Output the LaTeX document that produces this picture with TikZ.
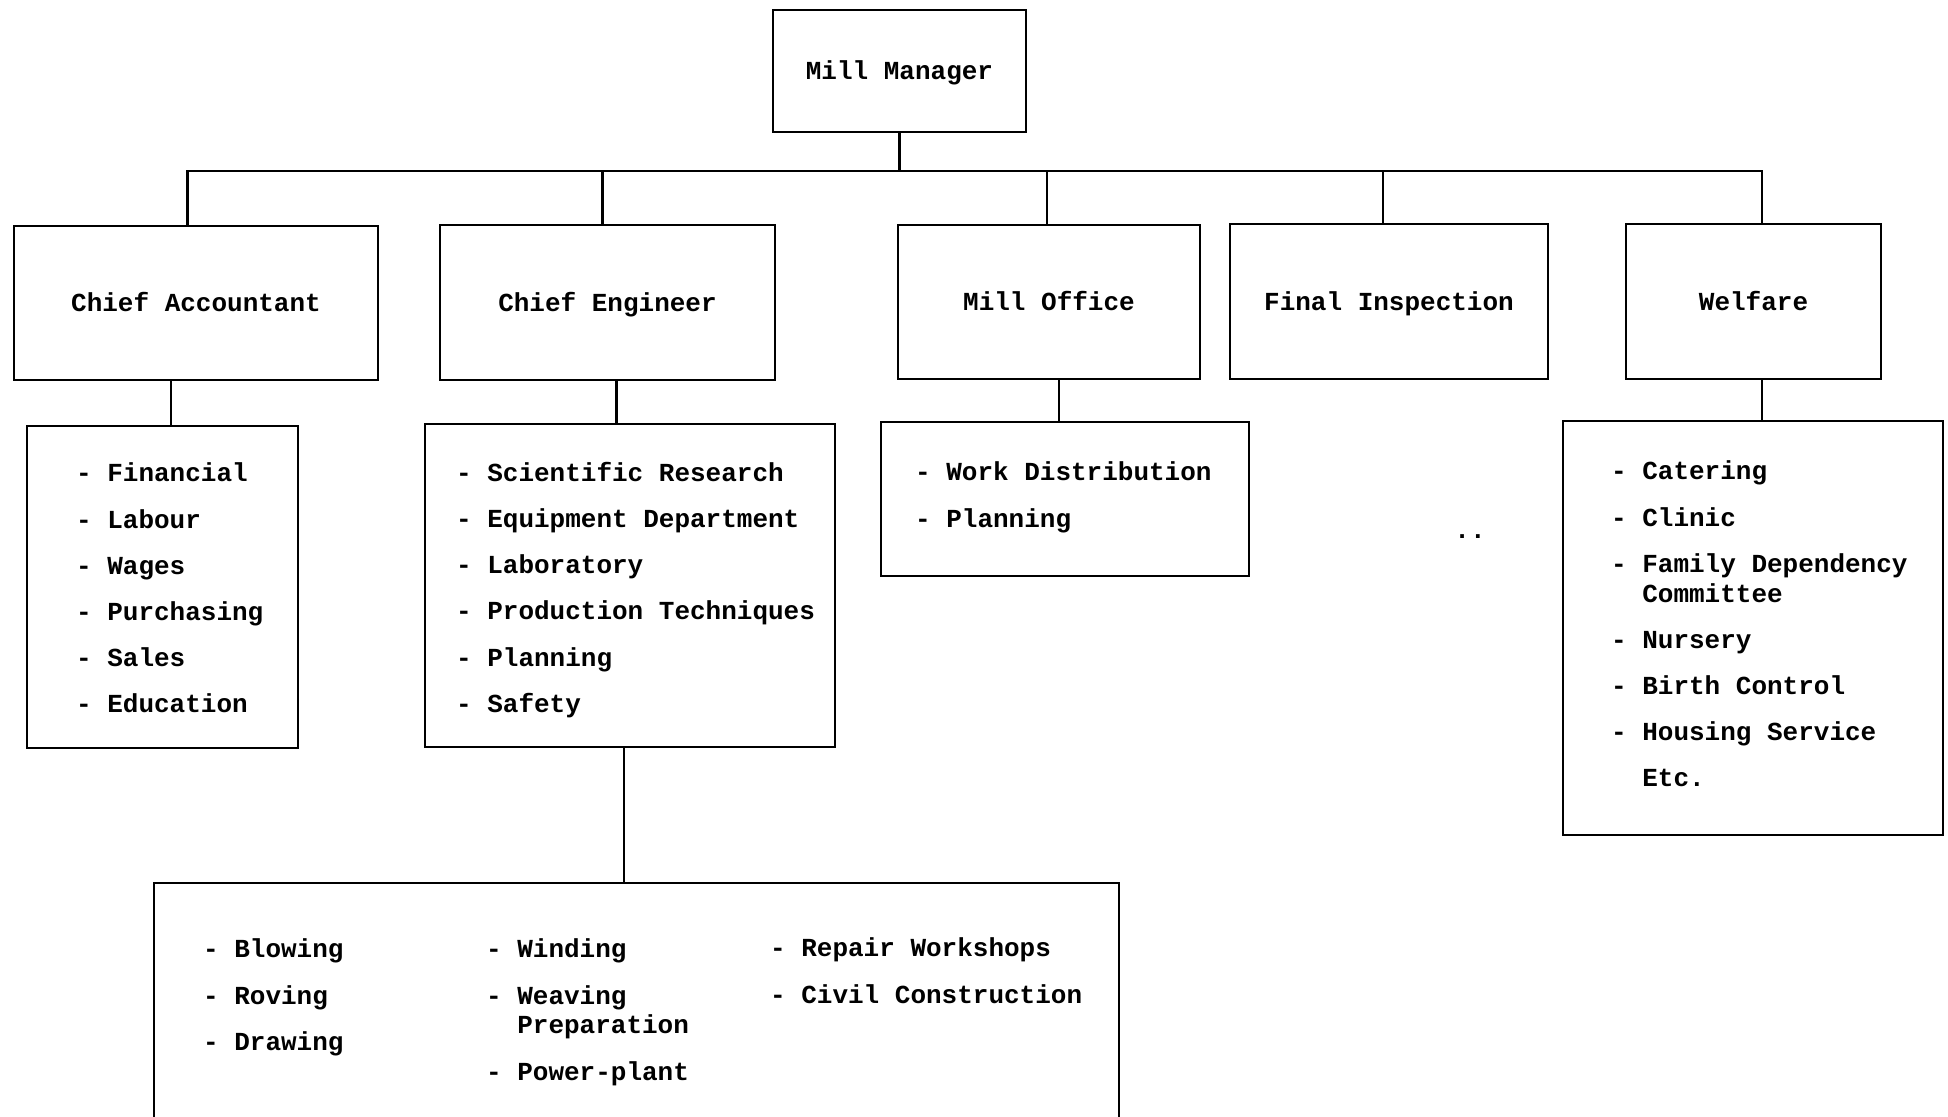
\documentclass[tikz,border=0pt]{standalone}
\usepackage{fontspec}
\setmonofont{Liberation Mono}
\tikzstyle{every node}=[font=\ttfamily\bfseries\fontsize{13}{23.1}\selectfont]
\tikzstyle{unit}=[draw, line width=1.3pt, inner sep=0pt, text height=10.5pt, text depth=2pt]
\tikzstyle{items}=[anchor=north west, inner sep=0pt, align=left]

\begin{document}
\begin{tikzpicture}[x=0.5pt, y=-0.5pt, line width=1.1pt]
\useasboundingbox (0,0) rectangle (1948,1116);
% Head
    \node[unit, minimum width=126.5pt, minimum height=61pt] (mgr) at (899.5,71) {Mill Manager};
% Department heads
    \node[unit, minimum width=182pt, minimum height=77pt] (acct) at (196,303) {Chief Accountant};
    \node[unit, minimum width=167.5pt, minimum height=77.5pt] (eng) at (607.5,302.5) {Chief Engineer};
    \node[unit, minimum width=151pt, minimum height=77pt] (office) at (1049,302) {Mill Office};
    \node[unit, minimum width=159pt, minimum height=77.5pt] (inspect) at (1389,301.5) {Final Inspection};
    \node[unit, minimum width=127.5pt, minimum height=77.5pt] (welfare) at (1753.5,301.5) {Welfare};
% Sections
    \node[unit, minimum width=135.5pt, minimum height=161pt] (acctlist) at (162.5,587) {};
    \node[unit, minimum width=205pt, minimum height=161.5pt] (englist) at (630,585.5) {};
    \node[unit, minimum width=184pt, minimum height=77pt] (officelist) at (1065,499) {};
    \node[unit, minimum width=190pt, minimum height=207pt] (welfarelist) at (1753,628) {};
    \node[unit, minimum width=482.5pt, minimum height=121pt] (mill) at (636.5,1004) {};
% Section lists
    \node[items] (acctitems) at (75,462) {- Financial\\- Labour\\- Wages\\- Purchasing\\- Sales\\- Education};
    \node[items] (engitems) at (455,461) {- Scientific Research\\- Equipment Department\\- Laboratory\\- Production Techniques\\- Planning\\- Safety};
    \node[items] (officeitems) at (914,461) {- Work Distribution\\- Planning};
    \node[items] (welfareitems) at (1610,460) {- Catering\\- Clinic\\- Family Dependency\\[-8.2pt]\phantom{- }Committee\\- Nursery\\- Birth Control\\- Housing Service\\\phantom{- }Etc.};
    \node[items] (millitems1) at (202,938) {- Blowing\\- Roving\\- Drawing};
    \node[items] (millitems2) at (485,938) {- Winding\\- Weaving\\[-8.2pt]\phantom{- }Preparation\\- Power-plant};
    \node[items] (millitems3) at (769,937) {- Repair Workshops\\- Civil Construction};
    \node (dots) at (1470,537) {..};
% Connectors
    \coordinate (bus) at (899.5,171);
    \draw (mgr.south) -- (bus);
    \draw ([xshift=-4.3pt]acct.north) |- (bus);
    \draw ([xshift=-2.5pt]eng.north) |- (bus);
    \draw ([xshift=-1.2pt]office.north) |- (bus);
    \draw ([xshift=-3pt]inspect.north) |- (bus);
    \draw ([xshift=4.3pt]welfare.north) |- (bus);
    \draw ([xshift=4.3pt]acctlist.north) -- ([xshift=4.3pt]acctlist.north |- acct.south);
    \draw ([xshift=-6.8pt]englist.north) -- ([xshift=-6.8pt]englist.north |- eng.south);
    \draw ([xshift=-3pt]officelist.north) -- ([xshift=-3pt]officelist.north |- office.south);
    \draw ([xshift=4.3pt]welfarelist.north) -- ([xshift=4.3pt]welfarelist.north |- welfare.south);
    \draw ([xshift=-3pt]englist.south) -- ([xshift=-3pt]englist.south |- mill.north);
\end{tikzpicture}
\end{document}
